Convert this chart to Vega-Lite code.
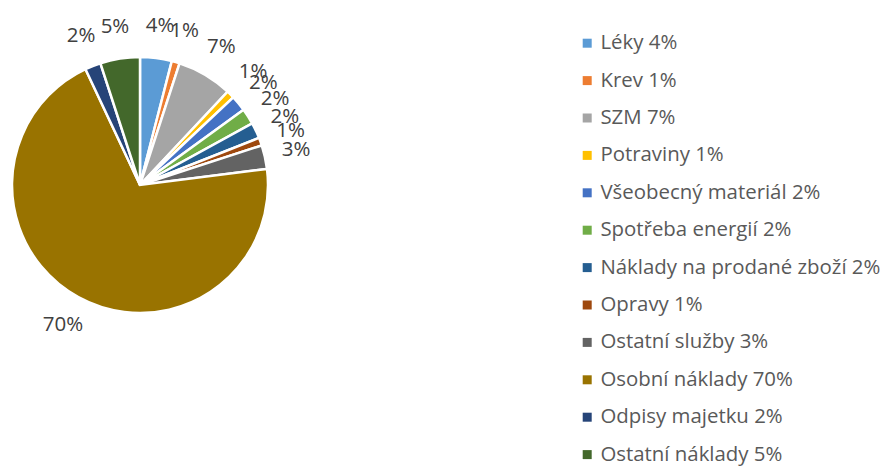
{
  "$schema": "https://vega.github.io/schema/vega-lite/v6.json",
  "width": 280,
  "height": 370,
  "autosize": "none",
  "padding": {"left": 0, "top": 0, "right": 608, "bottom": 102},
  "background": "white",
  "config": {"view": {"stroke": null}},
  "data": {"values": [
    {"kategorie": "Léky 4%", "hodnota": 4, "popisek": "4%", "poradi": 1},
    {"kategorie": "Krev 1%", "hodnota": 1, "popisek": "1%", "poradi": 2},
    {"kategorie": "SZM 7%", "hodnota": 7, "popisek": "7%", "poradi": 3},
    {"kategorie": "Potraviny 1%", "hodnota": 1, "popisek": "1%", "poradi": 4},
    {"kategorie": "Všeobecný materiál 2%", "hodnota": 2, "popisek": "2%", "poradi": 5},
    {"kategorie": "Spotřeba energií 2%", "hodnota": 2, "popisek": "2%", "poradi": 6},
    {"kategorie": "Náklady na prodané zboží 2%", "hodnota": 2, "popisek": "2%", "poradi": 7},
    {"kategorie": "Opravy 1%", "hodnota": 1, "popisek": "1%", "poradi": 8},
    {"kategorie": "Ostatní služby 3%", "hodnota": 3, "popisek": "3%", "poradi": 9},
    {"kategorie": "Osobní náklady 70%", "hodnota": 70, "popisek": "70%", "poradi": 10},
    {"kategorie": "Odpisy majetku 2%", "hodnota": 2, "popisek": "2%", "poradi": 11},
    {"kategorie": "Ostatní náklady 5%", "hodnota": 5, "popisek": "5%", "poradi": 12}
  ]},
  "layer": [
    {
      "mark": {"type": "arc", "outerRadius": 128, "stroke": "white", "strokeWidth": 2.5},
      "encoding": {
        "theta": {"field": "hodnota", "type": "quantitative", "stack": true},
        "order": {"field": "poradi", "type": "quantitative"},
        "color": {
          "field": "kategorie",
          "type": "nominal",
          "sort": null,
          "scale": {
            "domain": ["Léky 4%", "Krev 1%", "SZM 7%", "Potraviny 1%", "Všeobecný materiál 2%", "Spotřeba energií 2%", "Náklady na prodané zboží 2%", "Opravy 1%", "Ostatní služby 3%", "Osobní náklady 70%", "Odpisy majetku 2%", "Ostatní náklady 5%"],
            "range": ["#5B9BD5", "#ED7D31", "#A5A5A5", "#FFC000", "#4472C4", "#70AD47", "#255E91", "#9E480E", "#636363", "#997300", "#264478", "#43682B"]
          },
          "legend": {
            "title": null,
            "orient": "none",
            "legendX": 577,
            "legendY": 33,
            "symbolType": "square",
            "symbolSize": 81,
            "symbolStrokeWidth": 0,
            "labelFont": "Open Sans",
            "labelFontSize": 20.4,
            "labelColor": "#595959",
            "labelOffset": 3,
            "rowPadding": 16.4,
            "labelLimit": 400
          }
        }
      }
    },
    {
      "mark": {"type": "text", "radius": 160, "fontSize": 20.5, "font": "Open Sans", "color": "#404040"},
      "encoding": {
        "theta": {"field": "hodnota", "type": "quantitative", "stack": true},
        "order": {"field": "poradi", "type": "quantitative"},
        "text": {"field": "popisek", "type": "nominal"}
      }
    }
  ]
}
